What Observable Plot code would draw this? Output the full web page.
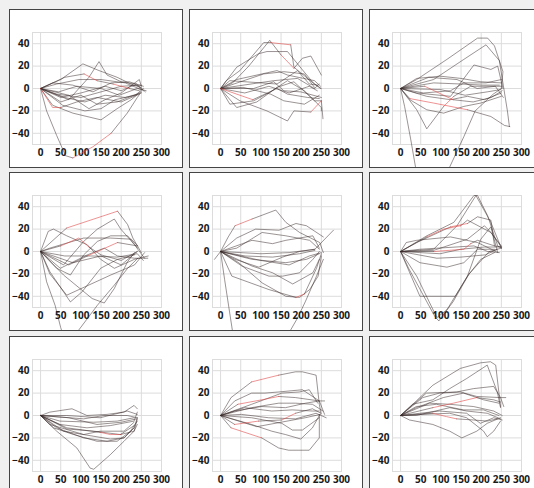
<!DOCTYPE html>
<html>
<head>
<meta charset="utf-8">
<script src="https://cdn.jsdelivr.net/npm/d3@7"></script>
<script src="https://cdn.jsdelivr.net/npm/@observablehq/plot@0.6"></script>
<style>
  html, body { margin: 0; padding: 0; background: #f0f0f0; width: 534px; height: 488px; overflow: hidden; }
  .panel { position: absolute; width: 172px; height: 157px; border: 1px solid #444; background: #fff; overflow: hidden; }
  .panel svg { overflow: visible; display: block; }
</style>
</head>
<body>
<div id="root"></div>
<script>
// ---- data: each panel = list of trajectories ([x, y] vertices) ----
const p1 = [
  [[0,0],[15,-20],[40,-42],[62,-60],[80,-62],[130,-52],[175,-40],[215,-22],[240,-8],[250,-3]],
  [[0,0],[30,-15],[80,-22],[150,-28],[190,-18],[225,-10],[248,-3]],
  [[0,0],[30,-17],[50,-17],[90,-12],[140,-8],[200,-12],[245,-5]],
  [[0,0],[50,8],[105,22],[145,16],[190,10],[230,3],[250,1]],
  [[0,0],[70,-10],[120,10],[145,24],[165,12],[200,6],[235,4],[255,-2]],
  [[0,0],[60,10],[108,13],[140,7],[180,4],[220,0],[245,-2]],
  [[0,0],[40,-5],[100,-8],[150,-3],[200,2],[250,3]],
  [[0,0],[60,-8],[110,-12],[160,-6],[210,-8],[250,-4]],
  [[0,0],[50,-12],[100,-6],[140,-14],[190,-12],[240,-5]],
  [[0,0],[30,5],[80,3],[130,-3],[175,5],[220,6],[255,2]],
  [[0,0],[70,-6],[120,-18],[160,-10],[200,-4],[245,8],[250,2]],
  [[0,0],[45,-3],[90,2],[150,0],[195,-6],[240,0],[262,-2]],
  [[0,0],[55,-15],[110,-20],[150,-18],[185,-10],[235,-6],[255,0]],
  [[0,0],[40,4],[95,8],[150,8],[210,5],[250,-1]],
  [[0,0],[50,-8],[100,-4],[160,2],[200,-2],[238,4],[260,-3]]
];
const r1 = [[0,4],[0,5],[2,0],[2,1],[5,2],[5,4]];

const p2 = [
  [[0,0],[14,7],[48,16],[107,41],[124,41],[174,39],[182,19],[233,4],[250,0]],
  [[0,0],[30,5],[70,20],[122,43],[150,30],[182,18],[203,27],[224,29],[250,12]],
  [[0,0],[40,19],[94,31],[115,33],[166,33],[200,18],[230,5],[248,0]],
  [[0,0],[40,8],[140,16],[166,12],[233,7],[248,2]],
  [[0,0],[48,-11],[115,-20],[166,-29],[182,-20],[224,-21],[250,-11],[254,-27]],
  [[0,0],[23,-14],[82,-11],[124,-3],[166,7],[208,-2],[250,-17],[250,-20]],
  [[0,0],[23,7],[140,4],[191,16],[220,4],[241,3]],
  [[0,0],[82,0],[132,6],[157,-2],[199,-3],[250,-8]],
  [[0,0],[56,1],[124,-5],[157,-11],[208,-14],[245,-6]],
  [[0,0],[132,7],[191,9],[233,0],[245,4]],
  [[0,0],[107,13],[157,15],[208,13],[233,1]],
  [[0,0],[80,-10],[140,0],[166,-5],[216,-8],[245,-9]],
  [[0,0],[40,-17],[90,-12],[140,1],[182,6],[233,-11],[250,-11]],
  [[0,0],[60,-4],[120,2],[170,-4],[220,2],[240,-2]]
];
const r2 = [[0,4],[1,4],[4,5],[11,0]];

const p3 = [
  [[0,0],[40,8],[115,26],[191,45],[216,45],[233,38],[254,15],[250,0]],
  [[0,0],[82,8],[157,26],[212,39],[245,25],[265,-20],[270,-34]],
  [[0,0],[23,-9],[82,-13],[166,-19],[224,-25],[258,-33],[271,-34]],
  [[0,0],[10,-16],[25,-45],[38,-72],[60,-100],[100,-90],[122,-70],[157,-43],[185,-20],[230,-5],[250,0]],
  [[0,0],[40,9],[98,11],[150,9],[199,6],[250,5]],
  [[0,0],[82,5],[150,4],[205,3],[245,3]],
  [[0,0],[57,-4],[124,-2],[157,5],[212,5],[250,8]],
  [[0,0],[40,-4],[124,-7],[182,21],[224,17],[241,20],[254,0]],
  [[0,0],[65,-7],[124,-10],[166,-7],[208,-10],[250,-4]],
  [[0,0],[23,-10],[65,-19],[107,-22],[157,-16],[199,-13],[250,-7]],
  [[0,0],[40,-19],[65,-36],[107,-16],[132,-7],[174,2],[250,2]],
  [[0,0],[60,2],[130,-10],[180,-12],[225,-8],[252,-2]],
  [[0,0],[70,10],[140,8],[190,0],[235,2],[255,-8]],
  [[0,0],[100,-1],[160,-6],[215,-3],[248,-1]]
];
const r3 = [[2,1],[2,2],[10,3],[11,1]];

const p4 = [
  [[0,0],[65,21],[191,36],[216,24],[229,12],[250,-1]],
  [[0,0],[19,18],[32,20],[65,14],[116,6],[149,-7],[183,-15],[233,-7],[267,-4]],
  [[0,0],[57,-12],[107,9],[141,20],[183,29],[199,20],[233,6],[258,-6]],
  [[0,0],[40,-15],[74,-21],[107,-3],[141,9],[174,14],[216,14],[241,3]],
  [[0,0],[50,5],[95,12],[120,4],[150,-3],[200,-8],[240,0]],
  [[0,0],[15,-27],[36,-48],[50,-68],[70,-90],[95,-70],[141,-48],[183,-30],[216,-15],[241,-6]],
  [[0,0],[23,-18],[74,-45],[103,-36],[149,-15],[191,-7],[233,-3]],
  [[0,0],[57,-21],[128,-42],[158,-46],[183,-33],[216,-9],[233,-1]],
  [[0,0],[23,-20],[65,-39],[174,-21],[233,-12],[258,-1]],
  [[0,0],[49,-15],[116,-3],[158,3],[191,-4],[233,-6],[266,-6]],
  [[0,0],[23,3],[107,12],[174,12],[225,11],[241,5]],
  [[0,0],[60,-4],[130,-4],[190,-5],[240,-2],[255,-8]],
  [[0,0],[70,-12],[116,-4],[191,8],[240,5]],
  [[0,0],[80,-10],[150,-4],[200,-12],[240,0]]
];
const r4 = [[0,1],[4,1],[4,2],[12,2]];

const p5 = [
  [[0,0],[19,13],[36,23],[78,29],[137,37],[162,26],[196,17],[246,8],[255,-1]],
  [[0,0],[40,12],[87,20],[145,19],[187,25],[213,23],[255,13]],
  [[-15,-7],[0,0],[100,-2],[170,-1],[234,2],[280,19]],
  [[0,0],[78,10],[129,7],[162,10],[229,14],[245,3]],
  [[0,0],[45,-10],[103,-28],[162,-40],[196,-41],[221,-34],[242,-22],[250,-4]],
  [[0,0],[28,-22],[120,-34],[187,-41],[208,-38],[238,-15],[250,-2]],
  [[0,0],[10,-25],[30,-72],[80,-100],[150,-85],[190,-60],[210,-45],[238,-22],[255,-7]],
  [[0,0],[53,-13],[120,-22],[154,-22],[196,-19],[229,-7],[245,0]],
  [[0,0],[78,-7],[162,-10],[213,-7],[245,-2]],
  [[0,0],[61,-4],[129,-5],[196,-2],[234,1]],
  [[0,0],[36,-7],[95,-14],[154,-5],[196,0],[234,2]],
  [[0,0],[40,3],[103,17],[162,14],[221,10],[245,2]],
  [[0,0],[78,-13],[129,-19],[179,-29],[229,-19],[245,-7]],
  [[0,0],[100,-8],[170,-12],[220,-4],[250,-1]]
];
const r5 = [[0,2],[5,3]];

const p6 = [
  [[0,0],[65,14],[132,26],[182,50],[191,50],[216,32],[241,5],[250,3]],
  [[0,0],[82,2],[140,23],[187,50],[224,26],[250,3]],
  [[0,0],[40,8],[124,22],[166,25],[191,31],[224,28],[233,5]],
  [[0,0],[65,13],[107,20],[149,23],[166,28],[224,17],[250,5]],
  [[0,0],[82,0],[157,2],[174,7],[191,10],[233,5],[250,4]],
  [[0,0],[14,8],[40,10],[124,13],[191,8],[237,0]],
  [[0,0],[48,-10],[115,-14],[157,-10],[191,2],[233,2]],
  [[0,0],[48,-40],[136,-40],[166,-22],[199,-7],[233,-1]],
  [[0,0],[40,-22],[90,-59],[115,-52],[166,-22],[199,11],[224,22],[241,-1]],
  [[0,0],[20,-15],[85,-58],[95,-62],[130,-45],[170,-20],[220,0],[250,3]],
  [[0,0],[82,1],[166,11],[208,23],[224,17],[250,4]],
  [[0,0],[98,-2],[149,2],[208,4],[250,4]],
  [[0,0],[48,2],[182,5],[216,0],[245,-1]],
  [[0,0],[90,-6],[150,-5],[210,-3],[240,2]]
];
const r6 = [[3,1],[3,2],[4,1],[4,2],[2,2]];

const p7 = [
  [[0,0],[40,-14],[90,-29],[123,-47],[132,-48],[173,-35],[207,-23],[232,-14],[240,-3]],
  [[0,0],[23,3],[78,6],[115,0],[165,1],[207,3],[232,9],[240,6]],
  [[0,0],[65,0],[148,-2],[215,4],[240,1]],
  [[0,0],[48,-8],[115,-11],[173,-9],[232,-5],[240,3]],
  [[0,0],[57,-14],[123,-18],[173,-21],[207,-20],[232,-11],[240,-2]],
  [[0,0],[65,-11],[148,-15],[173,-17],[198,-17],[232,-9]],
  [[0,0],[23,-8],[107,-17],[148,-14],[207,-14],[232,-6]],
  [[0,0],[48,-5],[132,-6],[190,-5],[232,-2]],
  [[0,0],[32,-11],[82,-17],[140,-23],[190,-23],[223,-14],[240,-5]],
  [[0,0],[107,-3],[157,0],[215,0],[240,-2]],
  [[0,0],[65,-12],[132,-14],[198,-17],[232,-14],[240,-8]],
  [[0,0],[40,-11],[107,-20],[165,-23],[207,-20],[232,-11]],
  [[0,0],[70,-2],[140,-8],[200,-6],[238,-3]]
];
const r7 = [[5,2],[5,3]];

const p8 = [
  [[0,0],[26,16],[77,30],[144,36],[186,39],[203,39],[237,36],[245,10],[249,2]],
  [[0,0],[35,13],[77,20],[110,20],[144,21],[203,23],[245,13],[258,1]],
  [[0,0],[43,10],[102,14],[144,17],[186,16],[245,13],[258,13]],
  [[0,0],[77,10],[152,20],[195,21],[220,23],[241,11]],
  [[0,0],[77,7],[144,11],[186,11],[228,10],[254,4]],
  [[0,0],[35,-8],[94,-5],[152,-4],[186,2],[228,6],[249,2]],
  [[0,0],[26,-11],[102,-20],[144,-29],[169,-31],[220,-31],[245,-20],[245,1]],
  [[0,0],[77,-8],[127,-14],[161,-17],[199,-21],[228,-11],[245,0]],
  [[0,0],[77,-2],[152,-7],[178,-13],[203,-13],[245,-2]],
  [[0,0],[52,1],[119,-2],[186,-3],[237,2],[262,-2]],
  [[0,0],[60,7],[127,4],[178,5],[228,4],[245,4]],
  [[0,0],[35,4],[102,8],[161,7],[211,11],[245,13]],
  [[0,0],[90,-10],[150,-6],[210,-2],[248,1]]
];
const r8 = [[2,1],[2,2],[5,1],[5,3],[6,1],[0,2]];

const p9 = [
  [[0,0],[39,13],[80,27],[148,42],[198,47],[223,48],[236,45],[248,8]],
  [[0,0],[30,10],[80,14],[122,24],[164,33],[215,45],[240,21],[248,7]],
  [[0,0],[64,20],[139,21],[181,24],[231,26],[248,16],[256,8]],
  [[0,0],[55,16],[97,20],[148,21],[189,17],[248,16],[261,16]],
  [[0,0],[80,7],[131,11],[189,16],[231,14],[248,12]],
  [[0,0],[39,7],[106,16],[156,20],[206,14],[244,11]],
  [[0,0],[72,11],[122,10],[181,8],[231,4],[252,0]],
  [[0,0],[39,0],[122,7],[164,4],[215,2],[248,-3]],
  [[0,0],[80,2],[114,-1],[139,-3],[181,-4],[215,-5],[240,-3]],
  [[0,0],[22,-4],[80,-8],[122,-14],[152,-20],[189,-14],[215,-7],[248,-2]],
  [[0,0],[55,1],[122,2],[164,-2],[206,-14],[215,-19],[231,-14],[248,-5]],
  [[0,0],[97,4],[164,2],[198,-7],[231,-2],[252,-4]],
  [[0,0],[39,8],[89,10],[156,5],[206,5],[244,0]]
];
const r9 = [[4,1],[4,2],[8,1],[8,2]];

const panels = [p1, p2, p3, p4, p5, p6, p7, p8, p9];
const reds = [r1, r2, r3, r4, r5, r6, r7, r8, r9];

const xTicks = [0, 50, 100, 150, 200, 250, 300];
const yTicks = [-40, -20, 0, 20, 40];
const xDomain = [-20, 300];
const yDomain = [-50, 50];
const lefts = [9, 189, 369];
const tops = [9, 172, 336];

// split trajectories into runs of same colour (gray / red)
function runs(lines, red) {
  const rows = [];
  let id = 0;
  lines.forEach((pts, li) => {
    const rs = new Set(red.filter(r => r[0] === li).map(r => r[1]));
    let cur = null;
    for (let s = 0; s < pts.length - 1; s++) {
      const isRed = rs.has(s);
      if (cur === null || isRed !== cur) {
        id++; cur = isRed;
        rows.push({id, x: pts[s][0], y: pts[s][1], red: isRed});
      }
      rows.push({id, x: pts[s + 1][0], y: pts[s + 1][1], red: isRed});
    }
  });
  return rows;
}

const root = document.getElementById("root");
panels.forEach((lines, i) => {
  const rows = runs(lines, reds[i]);
  const div = document.createElement("div");
  div.className = "panel";
  div.style.left = lefts[i % 3] + "px";
  div.style.top = tops[Math.floor(i / 3)] + "px";
  const chart = Plot.plot({
    width: 172,
    height: 157,
    marginLeft: 22,
    marginRight: 21,
    marginTop: 22,
    marginBottom: 23,
    style: {fontFamily: "'Open Sans', sans-serif", fontSize: "10px", fontWeight: "bold", color: "#1a1a1a", background: "white", overflow: "visible"},
    x: {domain: xDomain, ticks: xTicks, tickSize: 0, tickPadding: 4, label: null},
    y: {domain: yDomain, ticks: yTicks, tickSize: 0, tickPadding: 3, label: null},
    marks: [
      Plot.ruleX(xTicks, {stroke: "#dcdcdc"}),
      Plot.ruleY(yTicks, {stroke: "#dcdcdc"}),
      Plot.frame({stroke: "#dcdcdc"}),
      Plot.line(rows.filter(d => !d.red), {x: "x", y: "y", z: "id", stroke: "#3a2a2a", strokeOpacity: 0.5, strokeWidth: 1}),
      Plot.line(rows.filter(d => d.red), {x: "x", y: "y", z: "id", stroke: "#e03a3a", strokeOpacity: 0.55, strokeWidth: 1})
    ]
  });
  div.appendChild(chart);
  root.appendChild(div);
});
</script>
</body>
</html>
